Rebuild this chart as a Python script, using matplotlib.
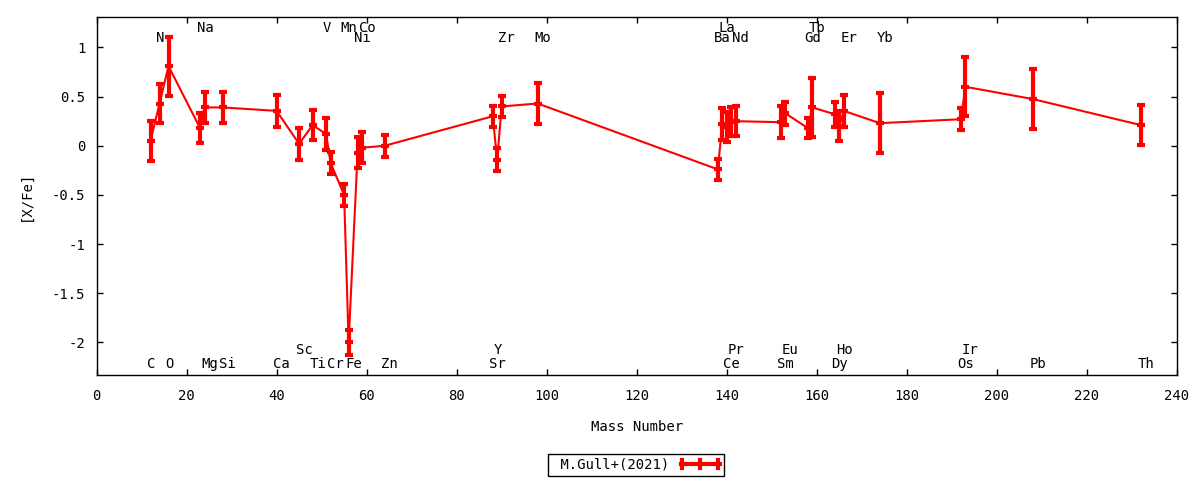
import numpy as np
import matplotlib
matplotlib.use("Agg")
import matplotlib.pyplot as plt
from matplotlib.ticker import FuncFormatter
from matplotlib.lines import Line2D
from matplotlib.legend_handler import HandlerBase

plt.rcParams['font.family'] = ['DejaVu Sans Mono']
plt.rcParams['axes.unicode_minus'] = False

# isotopes: mass number, [X/Fe], error
mass = [12, 14, 16, 23, 24, 28, 40, 45, 48, 51, 52, 55, 56, 58, 59, 64,
        88, 89, 90, 98, 138, 139, 140, 141, 142, 152, 153, 158, 159,
        164, 165, 166, 174, 192, 193, 208, 232]
xfe = [0.05, 0.43, 0.81, 0.18, 0.39, 0.39, 0.355, 0.02, 0.21, 0.12, -0.175,
       -0.50, -2.0, -0.07, -0.02, 0.0, 0.30, -0.14, 0.40, 0.43, -0.24,
       0.22, 0.19, 0.245, 0.25, 0.24, 0.33, 0.18, 0.39, 0.32, 0.20,
       0.355, 0.23, 0.27, 0.60, 0.475, 0.21]
err = [0.2, 0.2, 0.3, 0.15, 0.16, 0.16, 0.16, 0.16, 0.155, 0.16, 0.11,
       0.11, 0.13, 0.16, 0.16, 0.11, 0.105, 0.115, 0.11, 0.21, 0.11,
       0.16, 0.155, 0.15, 0.155, 0.16, 0.115, 0.10, 0.30, 0.125, 0.15,
       0.16, 0.305, 0.11, 0.30, 0.305, 0.2]

# element labels (mass number of the isotope they mark)
top1_el = ["Na", "V", "Mn", "Co", "La", "Tb"]
top1_a = [23, 51, 55, 59, 139, 159]
top2_el = ["N", "Ni", "Zr", "Mo", "Ba", "Nd", "Gd", "Er", "Yb"]
top2_a = [14, 58, 90, 98, 138, 142, 158, 166, 174]
bot1_el = ["Sc", "Y", "Pr", "Eu", "Ho", "Ir"]
bot1_a = [45, 89, 141, 153, 165, 193]
bot2_el = ["C", "O", "Mg", "Si", "Ca", "Ti", "Cr", "Fe", "Zn", "Sr", "Ce",
           "Sm", "Dy", "Os", "Pb", "Th"]
bot2_a = [12, 16, 24, 28, 40, 48, 52, 56, 64, 88, 140, 152, 164, 192, 208, 232]


# gnuplot-like key sample: thick bar with ticks at both ends and middle
class GnuErrHandler(HandlerBase):
    def create_artists(self, legend, orig_handle, xdescent, ydescent,
                       width, height, fontsize, trans):
        y = height / 2 - ydescent
        x0 = -xdescent
        x1 = x0 + width
        arts = [Line2D([x0, x1], [y, y], color="red", lw=3, transform=trans)]
        for x in (x0 + 1, (x0 + x1) / 2, x1 - 1):
            arts.append(Line2D([x, x], [y - 3, y + 3], color="red", lw=3,
                               transform=trans))
        return arts


fig = plt.figure(figsize=(12, 4.8), dpi=100)
ax = fig.add_axes([96.5 / 1200, 1 - 375.3 / 480, (1177 - 96.5) / 1200, (375.3 - 17) / 480])

ax.errorbar(mass, xfe, yerr=err, color="red", lw=1.5, elinewidth=3,
            capsize=3, capthick=3, marker="_", markersize=6, mew=3)

fs = 10
for els, aa, yy in [(top1_el, top1_a, 1.2), (top2_el, top2_a, 1.1),
                    (bot1_el, bot1_a, -2.08), (bot2_el, bot2_a, -2.22)]:
    for el, a in zip(els, aa):
        ax.annotate(el, (a, yy), xytext=(-2.5, 0), textcoords="offset points",
                    ha="left", va="center", fontsize=fs)

ax.set_xlim(0, 240)
ax.set_ylim(-2.335, 1.31)
ax.set_xticks(np.arange(0, 241, 20))
ax.set_yticks([-2, -1.5, -1, -0.5, 0, 0.5, 1])
ax.yaxis.set_major_formatter(FuncFormatter(lambda v, p: "%g" % v))
ax.tick_params(direction="in", length=4, width=1, top=True, right=True,
               labelsize=fs)
ax.tick_params(axis="x", pad=10)
ax.tick_params(axis="y", pad=8)
for s in ax.spines.values():
    s.set_linewidth(1)

ax.set_xlabel("Mass Number", fontsize=fs, labelpad=12)
ax.set_ylabel("[X/Fe]", fontsize=fs, labelpad=14)

proxy = Line2D([], [], color="red", label=" M.Gull+(2021)")
leg = fig.legend(handles=[proxy], handler_map={proxy: GnuErrHandler()},
                 loc="center", bbox_to_anchor=(636 / 1200, 1 - 465 / 480),
                 fontsize=fs, markerfirst=False, fancybox=False, framealpha=1,
                 edgecolor="black", borderpad=0.3, handlelength=2.8,
                 handletextpad=0.8)
leg.get_frame().set_linewidth(1)

fig.savefig("out.png", dpi=100)
